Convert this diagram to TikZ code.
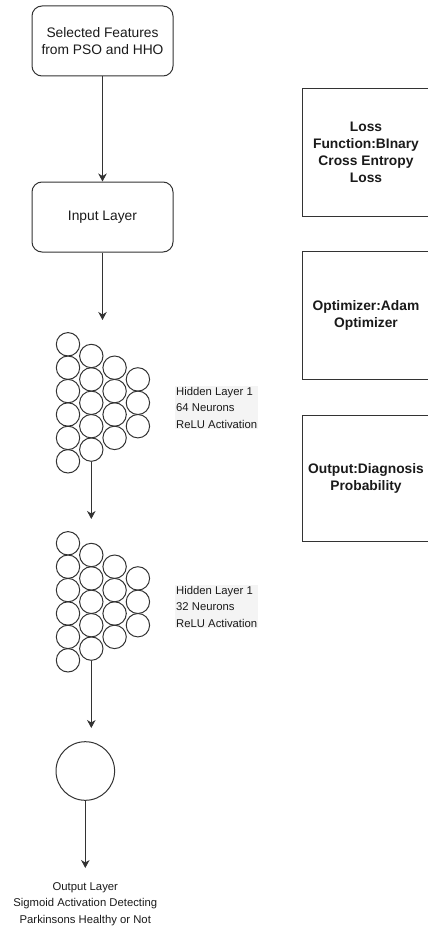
\documentclass[tikz,border=0pt]{standalone}
\usepackage{fontspec}
\setmainfont{Liberation Sans}
\usetikzlibrary{arrows.meta}
\definecolor{edge}{HTML}{333333}
\definecolor{ink}{HTML}{1A1A1A}
\definecolor{hilite}{HTML}{F4F4F4}
\begin{document}
\begin{tikzpicture}[x=1pt,y=-1pt,
  every node/.style={text=ink},
  roundbox/.style={draw=edge,line width=1pt,rounded corners=10pt,
    minimum width=141pt,minimum height=70pt,inner sep=2pt,align=center,
    font=\fontsize{13.8}{17.5}\selectfont},
  sidebox/.style={draw=edge,line width=1pt,minimum width=128pt,
    inner sep=2pt,align=center,
    font=\fontsize{13.8}{17}\selectfont\bfseries},
  neuron/.style={circle,draw=edge,line width=1pt,minimum size=23.4pt,inner sep=0pt},
  layerlabel/.style={fill=hilite,inner sep=1pt,align=left,anchor=west,
    font=\fontsize{11.3}{16.5}\selectfont},
  flow/.style={draw=edge,line width=1pt,-{Stealth[length=8pt,width=8.5pt,inset=2.5pt]}}]
\useasboundingbox (0,0) rectangle (428,931);

% input side
\node[roundbox] (sel) at (102.5,41) {Selected Features\\from PSO and HHO};
\node[roundbox] (inp) at (102.5,217) {Input Layer};
\draw[flow] (sel.south) -- (inp.north);
\coordinate (h1in) at (102.5,320);
\draw[flow] (inp.south) -- (h1in);

% two hidden layers, columns of 6,5,4,3 neurons
\foreach \L/\dy in {1/0,2/199}{
  \foreach \c in {1,...,4}{
    \pgfmathtruncatemacro{\n}{7-\c}
    \foreach \r in {1,...,\n}{
      \node[neuron] (h\L-\c-\r) at ({68+23.3*(\c-1)},{344.3+\dy+11.7*(\c-1)+23.4*(\r-1)}) {};
    }
  }
}
\node[layerlabel] (lab1) at (175,407.5) {Hidden Layer 1\\64 Neurons\\ReLU Activation};
\node[layerlabel] (lab2) at (175,606.5) {Hidden Layer 1\\32 Neurons\\ReLU Activation};

\coordinate (h2in) at (91.3,519);
\draw[flow] (h1-2-5.south) -- (h2in);
\coordinate (outin) at (91.3,728);
\draw[flow] (h2-2-5.south) -- (outin);

% output neuron
\node[circle,draw=edge,line width=1pt,minimum size=58.6pt,inner sep=0pt] (out) at (85.3,771) {};
\coordinate (res) at (85.3,868);
\draw[flow] (out.south) -- (res);
\node[align=center,font=\fontsize{11.3}{16.7}\selectfont,inner sep=0pt] (restext) at (85.3,904)
  {Output Layer\\Sigmoid Activation Detecting\\Parkinsons Healthy or Not};

% training settings
\node[sidebox,minimum height=128.4pt] (loss) at (366,152.5) {Loss\\Function:BInary\\Cross Entropy\\Loss};
\node[sidebox,minimum height=128.3pt] (opt) at (366,315.8) {Optimizer:Adam\\Optimizer};
\node[sidebox,minimum height=125.7pt] (diag) at (366,478.8) {Output:Diagnosis\\Probability};
\end{tikzpicture}
\end{document}
